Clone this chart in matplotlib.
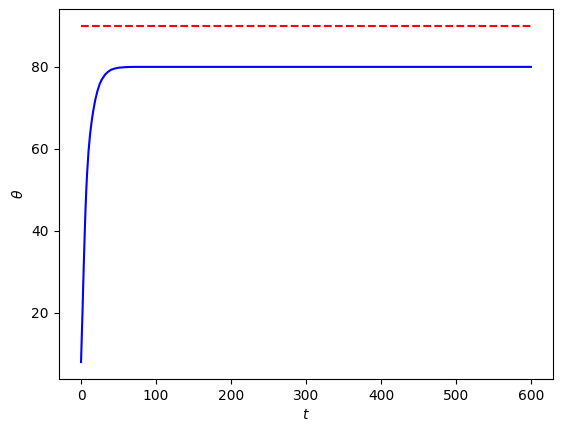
import numpy as np
import matplotlib
matplotlib.use("Agg")
import matplotlib.pyplot as plt

# === DATA ===
t = [0, 1, 2, 3, 4, 5, 6, 7, 8, 10, 12, 14, 16, 19, 22, 25, 28, 32, 36, 40, 45, 50, 60, 70, 100, 200, 400, 600]
theta = [8.0, 14.5, 20.5, 27.5, 34.0, 40.0, 45.5, 50.0, 53.8, 59.5, 63.5, 66.5, 69.0, 72.0, 74.2, 75.9, 77.0, 78.1, 78.8, 79.3, 79.6, 79.8, 79.95, 80.0, 80.0, 80.0, 80.0, 80.0]

t_target = [0, 600]
theta_target = [90, 90]

# === PLOT ===
fig = plt.figure(figsize=(5.63, 4.32), dpi=100)
ax = fig.add_axes([0.104, 0.123, 0.879, 0.856])
ax.plot(t, theta, 'b-')
ax.plot(t_target, theta_target, 'r--')
ax.set_xlabel("$t$")
ax.set_ylabel("$\\theta$")
fig.savefig("out.png", dpi=100)
